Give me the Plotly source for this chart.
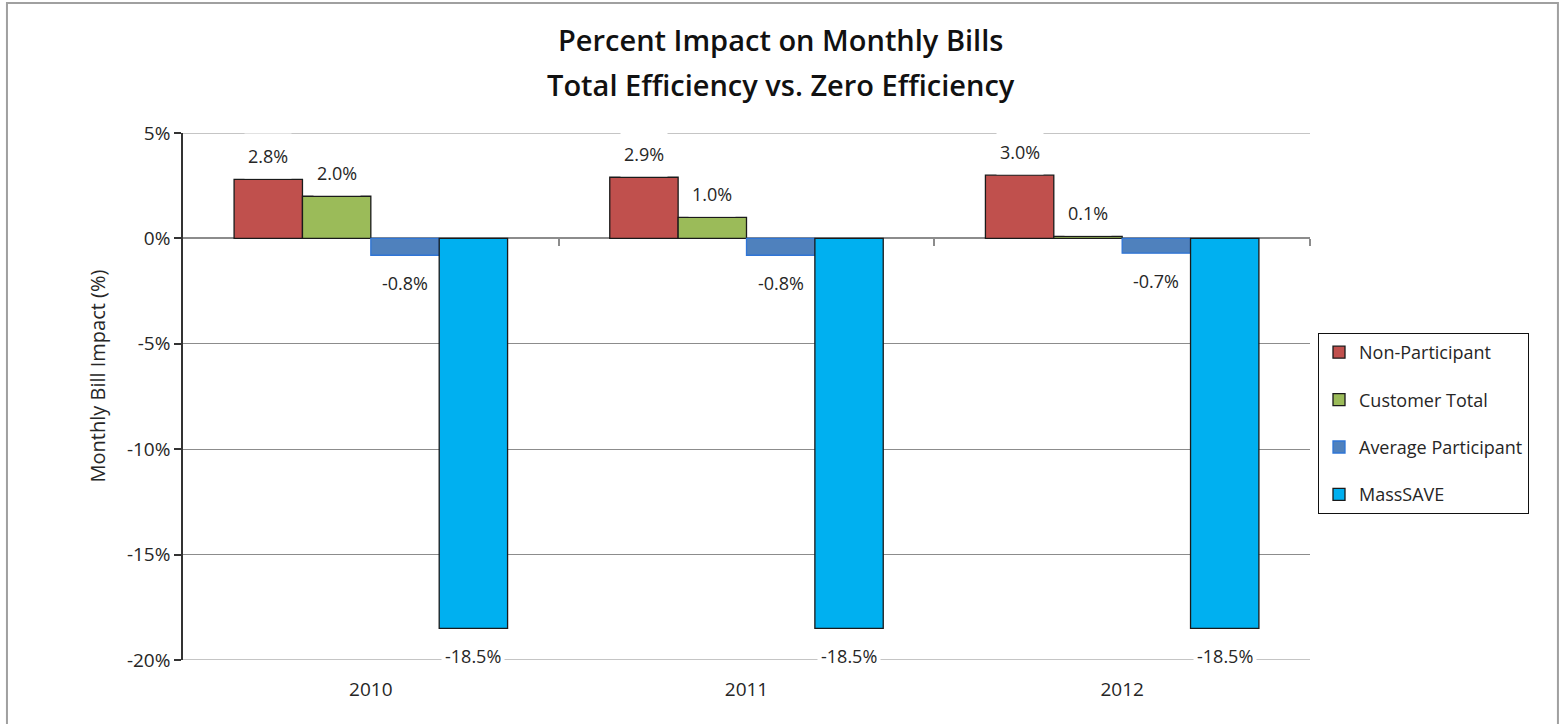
import plotly.graph_objects as go

# data
years = ["2010", "2011", "2012"]
series_names = ["Non-Participant", "Customer Total", "Average Participant", "MassSAVE"]
non_participant = [2.8, 2.9, 3.0]
customer_total = [2.0, 1.0, 0.1]
average_participant = [-0.8, -0.8, -0.7]
masssave = [-18.5, -18.5, -18.5]
y_ticks = [-20, -15, -10, -5, 0, 5]
y_tick_labels = ["-20%", "-15%", "-10%", "-5%", "0%", "5%"]

series_values = [non_participant, customer_total, average_participant, masssave]
fill_colors = ["#C0504D", "#9BBB59", "#4F81BD", "#00B0F0"]
line_colors = ["#1a1a1a", "#1a1a1a", "#2f75d6", "#1a1a1a"]

FONT = "Open Sans"
TXT = "#262626"
GRID = "#8c8c8c"
BAR_GAP = 0.272

x_pos = list(range(len(years)))
n = len(series_values)
bar_w = (1 - BAR_GAP) / n

fig = go.Figure()
annotations = []
for i, (name, vals) in enumerate(zip(series_names, series_values)):
    fig.add_trace(go.Bar(
        x=x_pos, y=vals, name=name, legendgroup=name,
        marker=dict(color=fill_colors[i], line=dict(color=line_colors[i], width=1.3)),
    ))
    # data labels centered on each bar, white boxed like the Excel original
    off = -(1 - BAR_GAP) / 2 + bar_w * (i + 0.5)
    for xp, v in zip(x_pos, vals):
        annotations.append(dict(
            x=xp + off, y=v, xref="x", yref="y", text=f"{v:.1f}%",
            showarrow=False, yanchor="middle", yshift=23 if v >= 0 else -28,
            font=dict(family=FONT, size=18, color=TXT),
            bgcolor="white", height=38, borderpad=3,
        ))

# invisible trace so the zero-line category axis gets drawn
fig.add_trace(go.Scatter(x=[], y=[], xaxis="x2", showlegend=False, hoverinfo="skip"))

# title lines
annotations.append(dict(x=0.5306, y=1.2467 - 37 / 527, xref="paper", yref="paper", yanchor="middle",
                        text="Percent Impact on Monthly Bills", showarrow=False,
                        font=dict(family=FONT, size=29, color="#111", weight=600)))
annotations.append(dict(x=0.5306, y=1.2467 - 82 / 527, xref="paper", yref="paper", yanchor="middle",
                        text="Total Efficiency vs. Zero Efficiency", showarrow=False,
                        font=dict(family=FONT, size=29, color="#111", weight=600)))
# y axis title
annotations.append(dict(x=-0.0896, y=0.539, xref="paper", yref="paper", text="Monthly Bill Impact (%)",
                        showarrow=False, textangle=-90, font=dict(family=FONT, size=20, color=TXT)))

# gridlines at the two range ends (plotly skips them at the edges)
shapes = [dict(type="line", xref="paper", yref="y", x0=0, x1=1, y0=yv, y1=yv,
               line=dict(color=GRID, width=1.2), layer="below") for yv in (y_ticks[0], y_ticks[-1])]
# outer chart border
shapes.append(dict(type="rect", xref="paper", yref="paper", x0=-0.1562, x1=1.22, y0=-0.3, y1=1.2467,
                   line=dict(color="#a0a0a0", width=2), layer="below"))

fig.update_layout(
    width=1561, height=724,
    margin=dict(l=183, r=251, t=133, b=64),
    paper_bgcolor="white", plot_bgcolor="white",
    barmode="group", bargap=BAR_GAP, bargroupgap=0,
    font=dict(family=FONT, color=TXT),
    annotations=annotations,
    shapes=shapes,
    showlegend=True,
    legend=dict(
        x=1.0071, y=0.6205, xanchor="left", yanchor="top",
        bordercolor="#111", borderwidth=1, bgcolor="white",
        font=dict(family=FONT, size=18, color=TXT),
        tracegroupgap=21, itemwidth=30,
    ),
    xaxis=dict(
        range=[-0.5, 2.5], tickvals=x_pos, ticktext=years,
        showline=False, showgrid=False, zeroline=False, ticks="",
        ticklabelstandoff=16, tickfont=dict(family=FONT, size=19, color=TXT),
    ),
    xaxis2=dict(
        overlaying="x", anchor="free", position=0.8, range=[-0.5, 2.5],
        tickvals=[0.5, 1.5, 2.5], showticklabels=False, ticks="outside",
        ticklen=7, tickcolor=GRID, tickwidth=1.5, showline=False, showgrid=False, zeroline=False,
    ),
    yaxis=dict(
        range=[-20, 5], tickvals=y_ticks, ticktext=y_tick_labels,
        showline=True, linecolor="#333", linewidth=1.5,
        ticks="outside", ticklen=7, tickcolor="#333", tickwidth=1.5,
        showgrid=True, gridcolor=GRID, gridwidth=1.2,
        zeroline=True, zerolinecolor=GRID, zerolinewidth=1.5,
        tickfont=dict(family=FONT, size=19, color=TXT),
    ),
)

fig.write_html("out.html", config={"displayModeBar": False},
               post_script="document.body.style.margin='0';")
